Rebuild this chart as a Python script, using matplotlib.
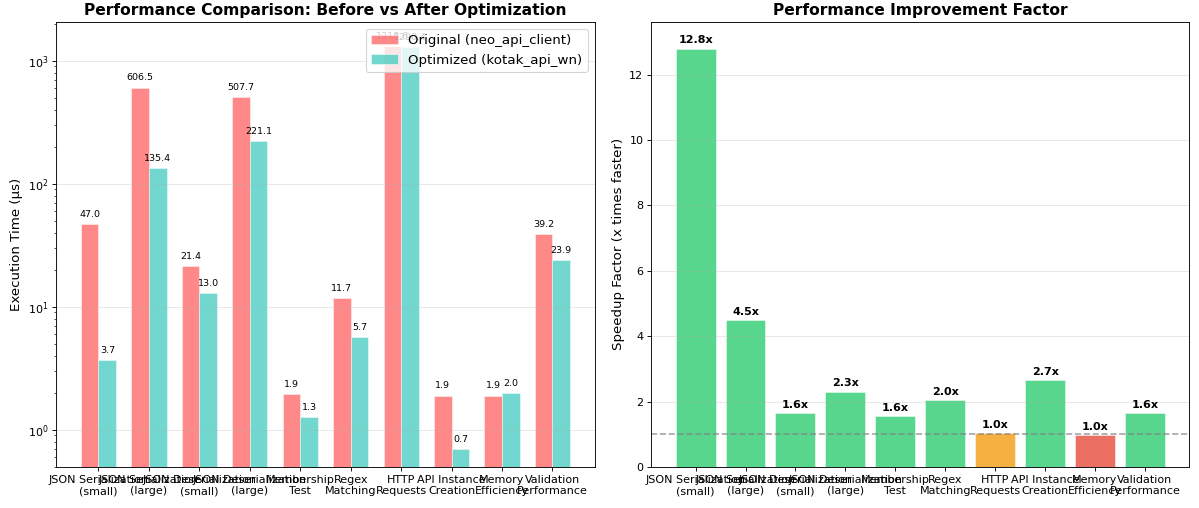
import matplotlib
matplotlib.use("Agg")
import matplotlib.pyplot as plt
import numpy as np

categories = [
    "JSON Serialization\n(small)",
    "JSON Serialization\n(large)",
    "JSON Deserialization\n(small)",
    "JSON Deserialization\n(large)",
    "Membership\nTest",
    "Regex\nMatching",
    "HTTP\nRequests",
    "API Instance\nCreation",
    "Memory\nEfficiency",
    "Validation\nPerformance",
]
original = [47.0, 606.5, 21.4, 507.7, 1.94, 11.7, 1318.6, 1.9, 1.9, 39.2]
optimized = [3.67, 135.4, 13.0, 221.1, 1.27, 5.7, 1290.4, 0.7, 2.0, 23.9]
speedup = [12.8, 4.48, 1.65, 2.30, 1.55, 2.05, 1.03, 2.65, 0.97, 1.64]
speedup_labels = ["12.8x", "4.5x", "1.6x", "2.3x", "1.6x", "2.0x", "1.0x", "2.7x", "1.0x", "1.6x"]

DPI = 80
fig, (ax1, ax2) = plt.subplots(1, 2, figsize=(1199 / DPI, 508 / DPI), dpi=DPI)
fig.subplots_adjust(left=0.047, right=0.992, top=0.957, bottom=0.081, wspace=0.105)

x = np.arange(len(categories))
w = 0.35
b1 = ax1.bar(x - w / 2, original, w, label="Original (neo_api_client)",
             color="#FF6B6B", alpha=0.8, edgecolor="white", linewidth=0.5)
b2 = ax1.bar(x + w / 2, optimized, w, label="Optimized (kotak_api_wn)",
             color="#4ECDC4", alpha=0.8, edgecolor="white", linewidth=0.5)
ax1.set_yscale("log")
ax1.set_ylim(0.5, 2075)
ax1.set_ylabel("Execution Time (μs)", fontsize=12)
ax1.set_title("Performance Comparison: Before vs After Optimization", fontsize=14, fontweight="bold")
ax1.set_xticks(x)
ax1.set_xticklabels(categories, fontsize=10)
ax1.tick_params(axis="y", labelsize=10)
ax1.legend(loc="upper right", fontsize=12)
ax1.grid(axis="y", alpha=0.3)
for bars, vals in ((b1, original), (b2, optimized)):
    for bar, v in zip(bars, vals):
        ax1.text(bar.get_x() + bar.get_width() / 2, v * 1.1, f"{v:.1f}",
                 ha="center", va="bottom", fontsize=8.5)

colors = []
for s in speedup:
    if s < 1.0:
        colors.append("#E74C3C")
    elif s < 1.1:
        colors.append("#F39C12")
    else:
        colors.append("#2ECC71")
b3 = ax2.bar(x, speedup, 0.8, color=colors, alpha=0.8, edgecolor="white", linewidth=0.5)
ax2.axhline(1.0, color="gray", linestyle="--", alpha=0.7)
ax2.set_ylim(0, 13.62)
ax2.set_ylabel("Speedup Factor (x times faster)", fontsize=12)
ax2.set_title("Performance Improvement Factor", fontsize=14, fontweight="bold")
ax2.set_xticks(x)
ax2.set_xticklabels(categories, fontsize=10)
ax2.tick_params(axis="y", labelsize=10)
ax2.grid(axis="y", alpha=0.3)
for bar, s, lab in zip(b3, speedup, speedup_labels):
    ax2.text(bar.get_x() + bar.get_width() / 2, s + 0.1, lab,
             ha="center", va="bottom", fontsize=10, fontweight="bold")

fig.savefig("out.png", dpi=DPI)
